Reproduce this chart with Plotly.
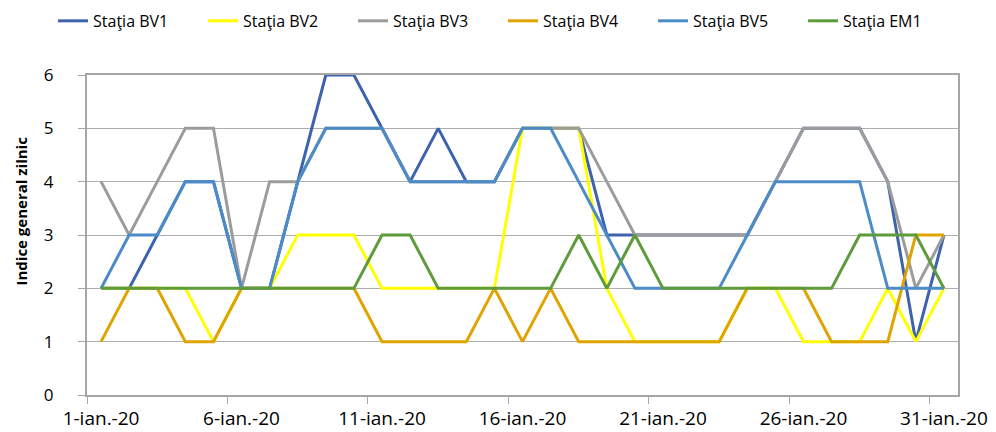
import plotly.graph_objects as go

dates = [f"2020-01-{d:02d}" for d in range(1, 32)]
tick_dates = ["2020-01-01", "2020-01-06", "2020-01-11", "2020-01-16",
              "2020-01-21", "2020-01-26", "2020-01-31"]
tick_labels = ["1-ian.-20", "6-ian.-20", "11-ian.-20", "16-ian.-20",
               "21-ian.-20", "26-ian.-20", "31-ian.-20"]

bv1 = [2, 2, 3, 4, 4, 2, 2, 4, 6, 6, 5, 4, 5, 4, 4, 5, 5, 5, 3, 3, 3, 3, 3, 3, 4, 5, 5, 5, 4, 1, 3]
bv2 = [2, 2, 2, 2, 1, 2, 2, 3, 3, 3, 2, 2, 2, 2, 2, 5, 5, 5, 2, 1, 1, 1, 1, 2, 2, 1, 1, 1, 2, 1, 2]
bv3 = [4, 3, 4, 5, 5, 2, 4, 4, 5, 5, 5, 4, 4, 4, 4, 5, 5, 5, 4, 3, 3, 3, 3, 3, 4, 5, 5, 5, 4, 2, 3]
bv4 = [1, 2, 2, 1, 1, 2, 2, 2, 2, 2, 1, 1, 1, 1, 2, 1, 2, 1, 1, 1, 1, 1, 1, 2, 2, 2, 1, 1, 1, 3, 3]
bv5 = [2, 3, 3, 4, 4, 2, 2, 4, 5, 5, 5, 4, 4, 4, 4, 5, 5, 4, 3, 2, 2, 2, 2, 3, 4, 4, 4, 4, 2, 2, 2]
em1 = [2, 2, 2, 2, 2, 2, 2, 2, 2, 2, 3, 3, 2, 2, 2, 2, 2, 3, 2, 3, 2, 2, 2, 2, 2, 2, 2, 3, 3, 3, 2]

series = [
    ("Staţia BV1", bv1, "#3D63AE"),
    ("Staţia BV2", bv2, "#FFFF00"),
    ("Staţia BV3", bv3, "#9C9C9C"),
    ("Staţia BV4", bv4, "#E0A400"),
    ("Staţia BV5", bv5, "#4B8BC8"),
    ("Staţia EM1", em1, "#5E9B3B"),
]

FONT = "Open Sans, Noto Sans, DejaVu Sans, sans-serif"

fig = go.Figure()
for name, vals, color in series:
    fig.add_trace(go.Scatter(x=dates, y=vals, name=name, mode="lines",
                             line=dict(color=color, width=3)))

fig.update_layout(
    width=988, height=424,
    margin=dict(l=79, r=38, t=67, b=37, autoexpand=False),
    paper_bgcolor="white", plot_bgcolor="white",
    font=dict(family=FONT, color="#000000"),
    legend=dict(orientation="h", x=-0.039, xanchor="left",
                y=1.169, yanchor="middle",
                font=dict(size=16, family=FONT),
                entrywidth=105, entrywidthmode="pixels",
                bgcolor="rgba(0,0,0,0)", tracegroupgap=0),
    showlegend=True,
)

fig.update_xaxes(
    type="date",
    range=["2019-12-31 12:00", "2020-01-31 12:00"],
    tickmode="array", tickvals=tick_dates, ticktext=tick_labels,
    ticks="", showgrid=False,
    tickfont=dict(size=19, family=FONT),
    ticklabelstandoff=5,
    showline=True, linecolor="#A6A6A6", linewidth=2, mirror=True,
    minor=dict(tick0="2019-12-31 12:00", dtick=5 * 86400000,
               ticks="outside", ticklen=7, tickcolor="#A6A6A6", tickwidth=1,
               showgrid=False),
    zeroline=False,
)

fig.update_yaxes(
    range=[0, 6], dtick=1, tick0=0,
    showgrid=True, gridcolor="#ADADAD", gridwidth=1,
    ticks="outside", ticklen=7, tickcolor="#A6A6A6",
    tickfont=dict(size=17, family=FONT),
    ticklabelstandoff=21,
    showline=True, linecolor="#A6A6A6", linewidth=2, mirror=True,
    zeroline=False,
)

fig.add_annotation(
    text="<b>Indice general zilnic</b>", textangle=-90,
    xref="paper", yref="paper",
    x=(12.5 - 79) / 871, y=(387 - 203) / 320,
    xanchor="center", yanchor="middle", showarrow=False,
    font=dict(size=15, family=FONT, color="#000000"),
)

fig.write_html("out.html")
